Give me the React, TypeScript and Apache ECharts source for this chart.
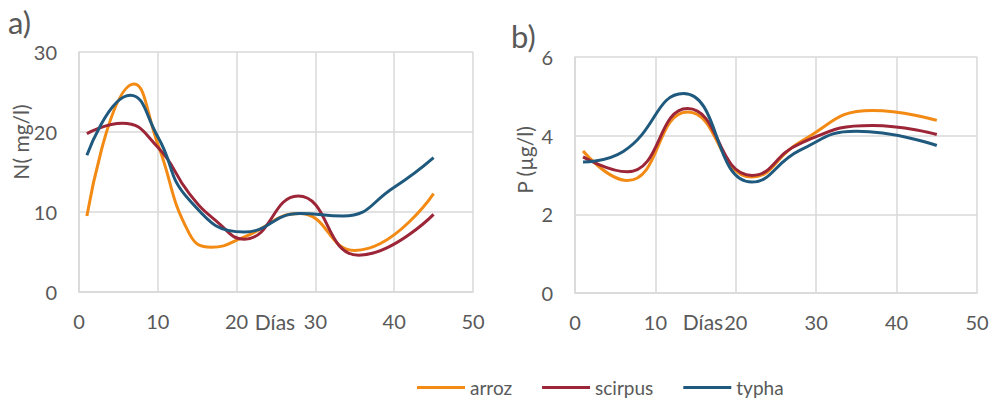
import React, { useEffect, useRef } from "react";
import * as echarts from "echarts";

// Panel a) N (mg/l) — [día, valor]
const nArrozDays = [1, 7, 10, 14, 16.8, 21, 28, 35, 45];
const nArrozVals = [9.5, 26, 18.5, 7.3, 5.6, 6.9, 9.8, 5.2, 12.3];
const nScirpusDays = [1, 5.5, 10, 14, 17.5, 21, 27.8, 35.5, 45];
const nScirpusVals = [19.8, 21.1, 18.1, 12.3, 8.8, 6.6, 12, 4.6, 9.7];
const nTyphaDays = [1, 6.5, 10, 14, 21, 28, 33.5, 40, 45];
const nTyphaVals = [17.1, 24.6, 19.4, 11.5, 7.5, 9.8, 9.5, 13.1, 16.8];

// Panel b) P (µg/l)
const pArrozDays = [1, 6.5, 14, 22, 28, 37, 45];
const pArrozVals = [3.61, 2.86, 4.6, 2.95, 3.84, 4.64, 4.39];
const pScirpusDays = [1, 6.5, 14, 22, 28, 37, 45];
const pScirpusVals = [3.46, 3.08, 4.69, 2.99, 3.8, 4.26, 4.03];
const pTyphaDays = [1, 6, 13.5, 22, 28, 35, 45];
const pTyphaVals = [3.33, 3.6, 5.07, 2.82, 3.63, 4.11, 3.75];

const seriesNames = ["arroz", "scirpus", "typha"];
const colors = ["#F28A14", "#9C2638", "#1F5A7E"];

const zip = (xs: number[], ys: number[]) => xs.map((x, i) => [x, ys[i]]);

const FONT = "Lato";
const TXT = "#595959";
const GRID = "#D9D9D9";

export default function App() {
  const ref = useRef<HTMLDivElement>(null);
  useEffect(() => {
    const chart = echarts.init(ref.current!, undefined, { renderer: "svg" });
    const xAxisBase = (gridIndex: number) => ({
      type: "value" as const,
      gridIndex,
      min: 0,
      max: 50,
      interval: 10,
      axisLine: { show: true, lineStyle: { color: GRID, width: 1.5 } },
      axisTick: { show: false },
      splitLine: { show: true, lineStyle: { color: GRID, width: 1.5 } },
      axisLabel: { color: TXT, fontSize: 20, fontFamily: FONT, margin: 19 },
    });
    const yAxisBase = (gridIndex: number, max: number, interval: number) => ({
      type: "value" as const,
      gridIndex,
      min: 0,
      max,
      interval,
      axisLine: { show: true, lineStyle: { color: GRID, width: 1.5 } },
      axisTick: { show: false },
      splitLine: { show: true, lineStyle: { color: GRID, width: 1.5 } },
      axisLabel: { color: TXT, fontSize: 20, fontFamily: FONT, margin: 22 },
    });
    const mk = (name: string, idx: number, data: number[][], axis: number) => ({
      name,
      type: "line" as const,
      xAxisIndex: axis,
      yAxisIndex: axis,
      data,
      smooth: 0.5,
      showSymbol: false,
      symbol: "none",
      lineStyle: { color: colors[idx], width: 3 },
      itemStyle: { color: colors[idx] },
    });
    chart.setOption({
      animation: false,
      backgroundColor: "#FFFFFF",
      grid: [
        { left: 79, top: 52, width: 394, height: 240 },
        { left: 575, top: 57, width: 402, height: 236 },
      ],
      xAxis: [xAxisBase(0), xAxisBase(1)],
      yAxis: [yAxisBase(0, 30, 10), yAxisBase(1, 6, 2)],
      legend: {
        data: seriesNames,
        left: 417,
        top: 378,
        padding: 0,
        icon: "rect",
        itemWidth: 48,
        itemHeight: 3,
        itemGap: 30,
        textStyle: { color: TXT, fontSize: 19, fontFamily: FONT },
      },
      series: [
        mk("arroz", 0, zip(nArrozDays, nArrozVals), 0),
        mk("scirpus", 1, zip(nScirpusDays, nScirpusVals), 0),
        mk("typha", 2, zip(nTyphaDays, nTyphaVals), 0),
        mk("arroz", 0, zip(pArrozDays, pArrozVals), 1),
        mk("scirpus", 1, zip(pScirpusDays, pScirpusVals), 1),
        mk("typha", 2, zip(pTyphaDays, pTyphaVals), 1),
      ],
      graphic: [
        { type: "text", left: 8, top: 6, style: { text: "a)", fill: TXT, fontSize: 31, fontFamily: FONT } },
        { type: "text", left: 511, top: 20, style: { text: "b)", fill: TXT, fontSize: 31, fontFamily: FONT } },
        {
          type: "text",
          x: 20,
          y: 142,
          rotation: Math.PI / 2,
          style: { text: "N( mg/l)", fill: TXT, fontSize: 21, fontFamily: FONT, align: "center", verticalAlign: "middle" },
        },
        {
          type: "text",
          x: 524,
          y: 160,
          rotation: Math.PI / 2,
          style: { text: "P (µg/l)", fill: TXT, fontSize: 21, fontFamily: FONT, align: "center", verticalAlign: "middle" },
        },
        {
          type: "text",
          x: 275,
          y: 321,
          style: { text: "Días", fill: TXT, fontSize: 21, fontFamily: FONT, align: "center", verticalAlign: "middle" },
        },
        {
          type: "text",
          x: 703,
          y: 321,
          style: { text: "Días", fill: TXT, fontSize: 21, fontFamily: FONT, align: "center", verticalAlign: "middle" },
        },
      ],
    });
    return () => chart.dispose();
  }, []);
  return <div ref={ref} style={{ width: 992, height: 401, position: "absolute", left: 0, top: 0 }} />;
}
